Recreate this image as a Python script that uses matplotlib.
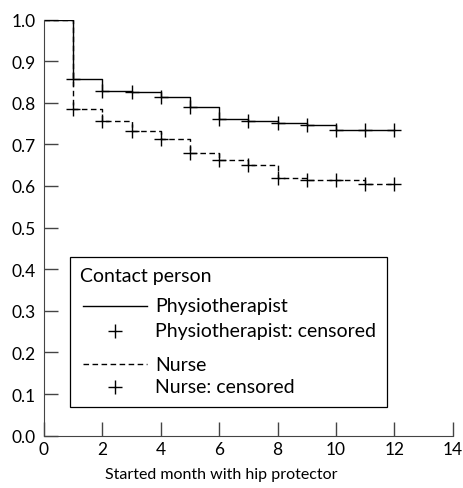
import numpy as np
import matplotlib.pyplot as plt
from matplotlib.lines import Line2D
from matplotlib.patches import Rectangle

plt.rcParams['font.family'] = ['Lato', 'DejaVu Sans']
plt.rcParams['font.size'] = 12

# survival estimates at each month (0 = start)
months = [0, 1, 2, 3, 4, 5, 6, 7, 8, 9, 10, 11, 12]
physio = [1.0, 0.857, 0.829, 0.827, 0.815, 0.789, 0.761,
          0.757, 0.752, 0.746, 0.735, 0.735, 0.735]
nurse = [1.0, 0.784, 0.757, 0.733, 0.712, 0.679, 0.663,
         0.651, 0.619, 0.614, 0.614, 0.605, 0.605]

x_ticks = [0, 2, 4, 6, 8, 10, 12, 14]
y_ticks = [0.0, 0.1, 0.2, 0.3, 0.4, 0.5, 0.6, 0.7, 0.8, 0.9, 1.0]

fig = plt.figure(figsize=(4.64, 4.89), dpi=100)
ax = fig.add_axes([0.0948, 0.107, 0.881, 0.851])

dash = (0, (4, 2.5))
ax.step(months, physio, where='post', color='k', lw=1.0)
ax.step(months, nurse, where='post', color='k', lw=1.0, linestyle=dash)
# censored marks
ax.plot(months[1:], physio[1:], '+', color='k', ms=10, mew=1.0)
ax.plot(months[1:], nurse[1:], '+', color='k', ms=10, mew=1.0)

ax.set_xlim(0, 14)
ax.set_ylim(0, 1.0)
ax.set_xticks(x_ticks)
ax.set_yticks(y_ticks, labels=[f'{v:.1f}' for v in y_ticks])
ax.tick_params(direction='in', length=10, width=1.0, color='#444444',
               labelsize=12.5)
ax.tick_params(axis='y', pad=6)
ax.tick_params(axis='x', pad=4)
ax.spines[['top', 'right']].set_visible(False)
ax.spines[['left', 'bottom']].set_color('#444444')
ax.set_xlabel('Started month with hip protector', fontsize=11.5)
ax.xaxis.set_label_coords(0.433, -0.075)

# legend drawn by hand (box in axes fraction)
fs = 14
ax.add_patch(Rectangle((0.064, 0.07), 0.775, 0.36, transform=ax.transAxes,
                       fill=False, edgecolor='k', lw=0.9))
rows = [0.384, 0.312, 0.252, 0.172, 0.117]
tx = 0.271
ax.text(0.088, rows[0], 'Contact person', transform=ax.transAxes,
        va='center', fontsize=fs)
ax.add_line(Line2D([0.095, 0.252], [rows[1]] * 2, transform=ax.transAxes,
                   color='k', lw=1.0))
ax.text(tx, rows[1], 'Physiotherapist', transform=ax.transAxes,
        va='center', fontsize=fs)
ax.plot([0.174], [rows[2]], '+', color='k', ms=10, mew=1.0,
        transform=ax.transAxes)
ax.text(tx, rows[2], 'Physiotherapist: censored', transform=ax.transAxes,
        va='center', fontsize=fs)
ax.add_line(Line2D([0.095, 0.252], [rows[3]] * 2, transform=ax.transAxes,
                   color='k', lw=1.0, linestyle=dash))
ax.text(tx, rows[3], 'Nurse', transform=ax.transAxes, va='center',
        fontsize=fs)
ax.plot([0.174], [rows[4]], '+', color='k', ms=10, mew=1.0,
        transform=ax.transAxes)
ax.text(tx, rows[4], 'Nurse: censored', transform=ax.transAxes,
        va='center', fontsize=fs)

fig.savefig('out.png', dpi=100)
